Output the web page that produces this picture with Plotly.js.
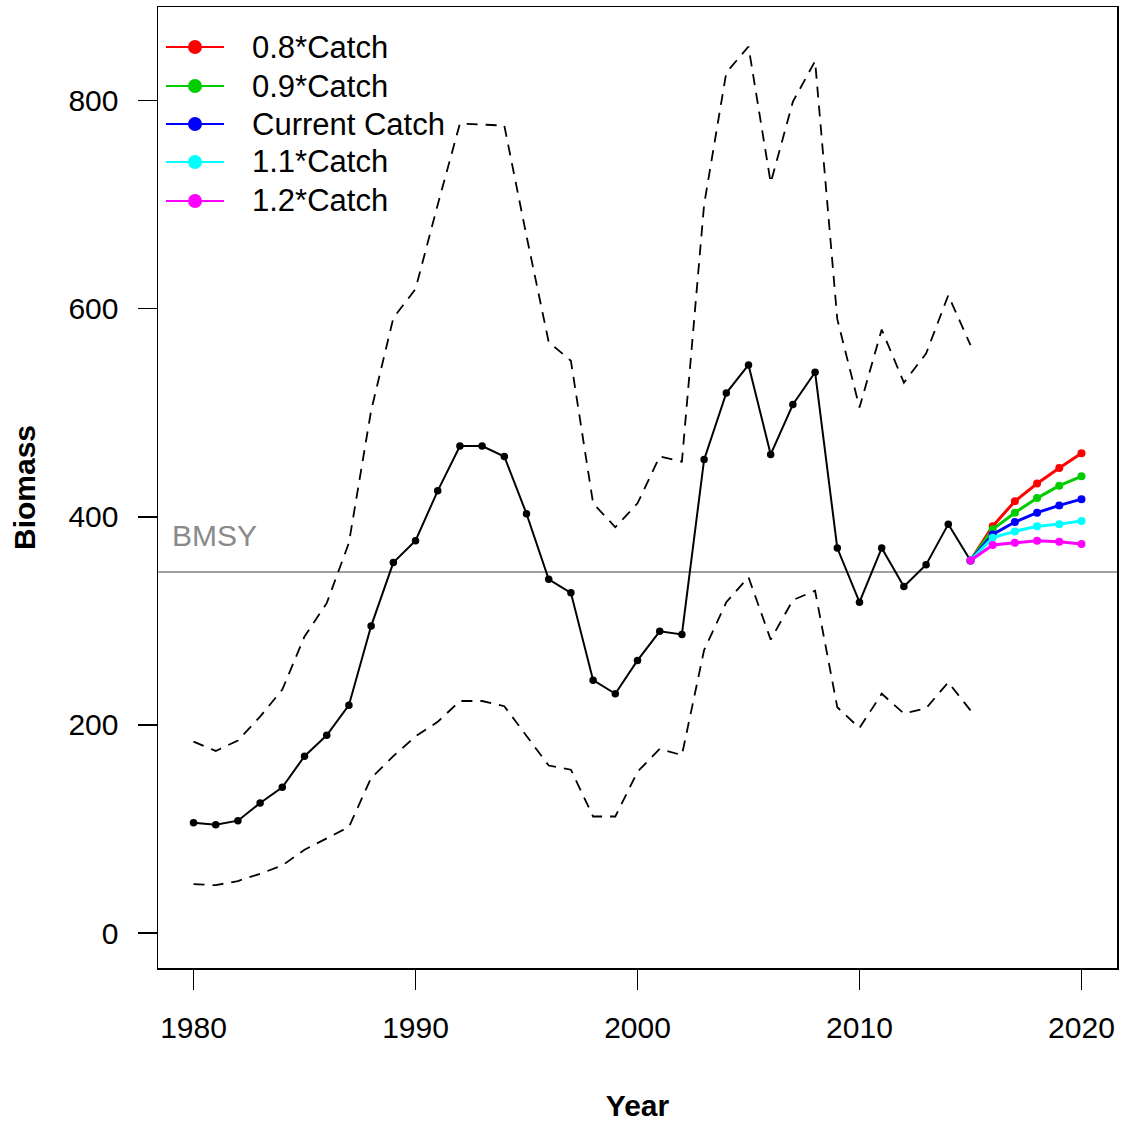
<!DOCTYPE html>
<html>
<head>
<meta charset="utf-8">
<script src="https://cdn.plot.ly/plotly-3.0.1.min.js"></script>
<style>
  html, body { margin: 0; padding: 0; background: #ffffff; }
  #chart { width: 1126px; height: 1124px; }
</style>
</head>
<body>
<div id="chart"></div>
<script>
// ---- data ----
const years = [1980,1981,1982,1983,1984,1985,1986,1987,1988,1989,
               1990,1991,1992,1993,1994,1995,1996,1997,1998,1999,
               2000,2001,2002,2003,2004,2005,2006,2007,2008,2009,
               2010,2011,2012,2013,2014,2015];
const biomass = [106,104,108,125,140,170,190,219,295,356,
                 377,425,468,468,458,403,340,327,243,230,
                 262,290,287,455,519,546,460,508,539,370,
                 318,370,333,354,393,358];
const upper = [184,175,185,208,234,285,317,375,502,591,
               619,700,778,777,776,670,568,550,413,390,
               413,458,453,700,827,852,721,799,838,590,
               505,580,529,557,613,565];
const lower = [47,46,50,57,65,80,91,102,149,170,
               189,203,223,223,218,189,161,157,112,112,
               155,177,171,272,318,342,282,320,329,217,
               197,230,211,216,241,214];
const projYears = [2015,2016,2017,2018,2019,2020];
const proj08  = [358,391,415,432,447,461];
const proj09  = [358,388,404,418,430,439];
const projCur = [358,383,395,404,411,417];
const proj11  = [358,380,386,391,393,396];
const proj12  = [358,373,375,377,376,374];
const bmsy = 347;
const scenarioNames = ["0.8*Catch","0.9*Catch","Current Catch","1.1*Catch","1.2*Catch"];
const scenarioColors = ["#FF0000","#00CD00","#0000FF","#00FFFF","#FF00FF"];
const xTicks = [1980,1990,2000,2010,2020];
const yTicks = [0,200,400,600,800];

const FONT = "Liberation Sans, Arial, sans-serif";
const dashStyle = "11px,8px";

// plot box in pixels (layout only)
const W = 1126, H = 1124;
const M = {l: 158, r: 9, t: 7, b: 156};
const PW = W - M.l - M.r, PH = H - M.t - M.b;
const px2x = px => (px - M.l) / PW;
const py2y = py => (H - M.b - py) / PH;

const traces = [];
traces.push({x: years, y: upper, type: "scatter", mode: "lines",
  line: {color: "#000", width: 1.8, dash: dashStyle}, showlegend: false, hoverinfo: "skip"});
traces.push({x: years, y: lower, type: "scatter", mode: "lines",
  line: {color: "#000", width: 1.8, dash: dashStyle}, showlegend: false, hoverinfo: "skip"});
traces.push({x: years, y: biomass, type: "scatter", mode: "lines+markers",
  line: {color: "#000", width: 2}, marker: {color: "#000", size: 7.5}, showlegend: false});

const projSeries = [proj08, proj09, projCur, proj11, proj12];
projSeries.forEach((s, i) => {
  traces.push({x: projYears, y: s, type: "scatter", mode: "lines+markers",
    name: scenarioNames[i], showlegend: false,
    line: {color: scenarioColors[i], width: 3},
    marker: {color: scenarioColors[i], size: 8}});
});

// hand-drawn legend (R style, no box)
const shapes = [{type: "line", xref: "paper", x0: 0, x1: 1, yref: "y", y0: bmsy, y1: bmsy,
    line: {color: "#808080", width: 1.5}, layer: "below"}];
const annotations = [{xref: "paper", x: px2x(170), yref: "y", y: bmsy + 17, xanchor: "left", yanchor: "bottom",
    text: "BMSY", showarrow: false, font: {family: FONT, size: 30, color: "#8a8a8a"}}];
const legRowY = [47, 86, 124, 162, 201];
scenarioNames.forEach((name, i) => {
  const yy = py2y(legRowY[i]);
  shapes.push({type: "line", xref: "paper", yref: "paper",
    x0: px2x(166), x1: px2x(224), y0: yy, y1: yy,
    line: {color: scenarioColors[i], width: 2}});
  shapes.push({type: "circle", xref: "paper", yref: "paper",
    xsizemode: "pixel", ysizemode: "pixel", xanchor: px2x(195), yanchor: yy,
    x0: -7, x1: 7, y0: -7, y1: 7,
    fillcolor: scenarioColors[i], line: {color: scenarioColors[i], width: 0}});
  annotations.push({xref: "paper", yref: "paper", x: px2x(250), y: yy,
    xanchor: "left", yanchor: "middle", showarrow: false, text: name,
    font: {family: FONT, size: 31, color: "#000"}});
});

const layout = {
  width: W, height: H,
  paper_bgcolor: "#ffffff", plot_bgcolor: "#ffffff",
  margin: M,
  font: {family: FONT, size: 30, color: "#000"},
  showlegend: false,
  xaxis: {
    range: [1978.4, 2021.6], tickvals: xTicks, ticktext: xTicks.map(String),
    ticks: "outside", ticklen: 20, tickwidth: 1.5, tickcolor: "#000",
    showline: true, mirror: true, linecolor: "#000", linewidth: 1.5,
    showgrid: false, zeroline: false, ticklabelstandoff: 12,
    tickfont: {family: FONT, size: 30, color: "#000"},
    title: {text: "<b>Year</b>", font: {family: FONT, size: 30, color: "#000"}, standoff: 52}
  },
  yaxis: {
    range: [-33.6, 890], tickvals: yTicks, ticktext: yTicks.map(String),
    ticks: "outside", ticklen: 19, tickwidth: 1.5, tickcolor: "#000",
    showline: true, mirror: true, linecolor: "#000", linewidth: 1.5,
    showgrid: false, zeroline: false, ticklabelstandoff: 13,
    tickfont: {family: FONT, size: 30, color: "#000"},
    title: {text: "<b>Biomass</b>", font: {family: FONT, size: 30, color: "#000"}, standoff: 24}
  },
  shapes: shapes,
  annotations: annotations
};

Plotly.newPlot("chart", traces, layout, {displayModeBar: false, staticPlot: true});
</script>
</body>
</html>
